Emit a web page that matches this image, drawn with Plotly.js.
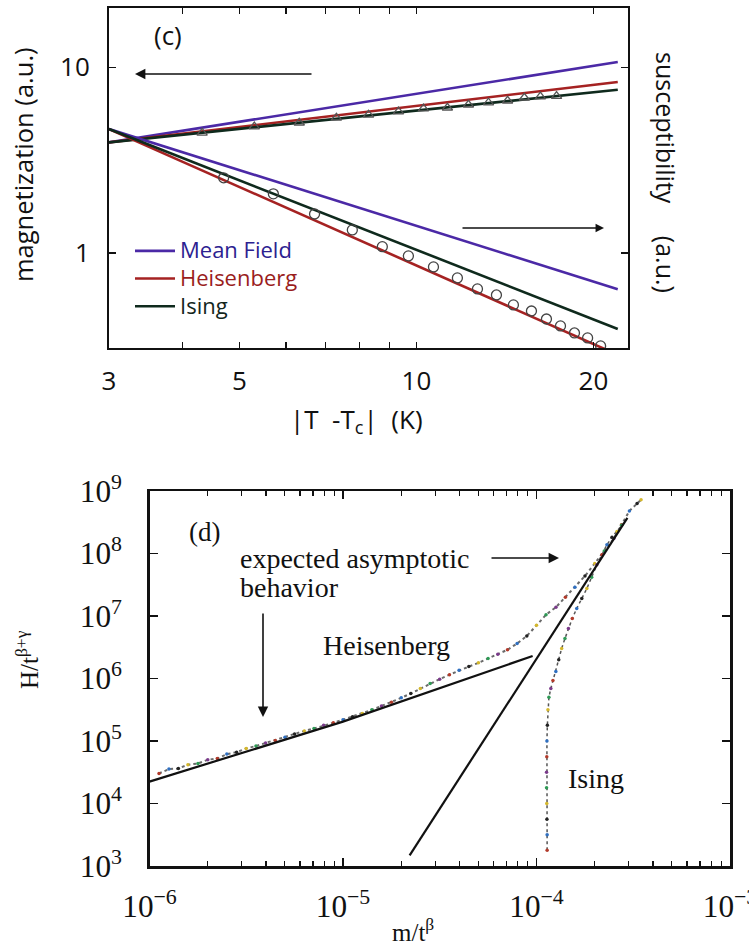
<!DOCTYPE html>
<html>
<head>
<meta charset="utf-8">
<script src="https://cdn.plot.ly/plotly-3.0.1.min.js"></script>
<style>
  html, body { margin: 0; padding: 0; background: #ffffff; }
  #chart { width: 749px; height: 945px; }
</style>
</head>
<body>
<div id="chart"></div>
<script>
// ---------------- Panel (c): magnetization / susceptibility vs |T - Tc| ----------------
const C_FIT_X = [3, 22];                  // |T - Tc| (K) for fitted power laws
const MF_MAG = [3.94, 10.69];             // mean field, magnetization
const HEIS_MAG = [3.94, 8.34];            // Heisenberg, magnetization
const ISING_MAG = [3.94, 7.58];           // Ising, magnetization
const MF_CHI = [4.65, 0.637];             // mean field, susceptibility
const HEIS_CHI = [4.65, 0.282];           // Heisenberg, susceptibility
const ISING_CHI = [4.65, 0.389];          // Ising, susceptibility

const MAG_T = [4.32, 5.30, 6.32, 7.31, 8.29, 9.32, 10.28, 11.29, 12.26, 13.26, 14.29, 15.26, 16.25, 17.31];
const MAG_VAL = [4.44, 4.79, 5.03, 5.35, 5.55, 5.77, 5.99, 6.06, 6.29, 6.45, 6.61, 6.86, 6.95, 7.00];

const CHI_T = [4.70, 5.71, 6.71, 7.78, 8.75, 9.69, 10.69, 11.74, 12.70, 13.68, 14.62, 15.69, 16.64, 17.58, 18.57, 19.55, 20.57];
const CHI_VAL = [2.54, 2.08, 1.62, 1.33, 1.08, 0.963, 0.840, 0.733, 0.639, 0.593, 0.524, 0.486, 0.440, 0.404, 0.370, 0.348, 0.315];

const C_TICK_VALS = [3, 4, 5, 6, 7, 8, 9, 10, 20];
const C_TICK_TEXT = ['3', '', '5', '', '', '', '', '10', '20'];
const C_YTICK_VALS = [1, 10];
const C_YTICK_TEXT = ['1', '10'];

const MODEL_NAMES = ['Mean Field', 'Heisenberg', 'Ising'];

// ---------------- Panel (d): scaling plot H/t^(beta+gamma) vs m/t^beta ----------------
const HEIS_ASYM_X = [1.0e-6, 1.0e-5, 9.55e-5];
const HEIS_ASYM_Y = [2.24e4, 2.04e5, 2.29e6];
const ISING_ASYM_X = [2.21e-5, 2.95e-4];
const ISING_ASYM_Y = [1.48e3, 3.72e8];

const HEIS_DATA_X = [1.12e-6, 1.26e-6, 1.41e-6, 1.58e-6, 1.78e-6, 2.0e-6, 2.24e-6, 2.51e-6, 2.82e-6, 3.16e-6,
  3.55e-6, 3.98e-6, 4.47e-6, 5.01e-6, 5.62e-6, 6.31e-6, 7.08e-6, 7.94e-6, 8.91e-6, 1.0e-5,
  1.12e-5, 1.26e-5, 1.41e-5, 1.58e-5, 1.78e-5, 2.0e-5, 2.24e-5, 2.51e-5, 2.82e-5, 3.16e-5,
  3.55e-5, 3.98e-5, 4.47e-5, 5.01e-5, 5.62e-5, 6.31e-5, 7.08e-5, 7.94e-5, 8.91e-5, 1.0e-4,
  1.12e-4, 1.26e-4, 1.41e-4, 1.58e-4, 1.78e-4, 2.0e-4, 2.24e-4, 2.51e-4, 2.75e-4, 3.02e-4, 3.31e-4, 3.47e-4];
const HEIS_DATA_Y = [3.02e4, 3.55e4, 3.63e4, 4.17e4, 4.37e4, 5.01e4, 5.25e4, 6.17e4, 6.61e4, 7.59e4,
  8.32e4, 9.33e4, 1.02e5, 1.15e5, 1.29e5, 1.45e5, 1.58e5, 1.78e5, 1.95e5, 2.19e5,
  2.45e5, 2.75e5, 3.16e5, 3.63e5, 4.17e5, 4.90e5, 5.75e5, 6.92e5, 8.32e5, 9.77e5,
  1.15e6, 1.35e6, 1.55e6, 1.78e6, 2.09e6, 2.45e6, 2.88e6, 3.63e6, 4.79e6, 7.08e6,
  1.05e7, 1.38e7, 2.0e7, 2.88e7, 4.37e7, 6.92e7, 1.10e8, 1.74e8, 2.88e8, 4.79e8, 6.31e8, 7.24e8];

const ISING_DATA_X = [1.135e-4, 1.135e-4, 1.132e-4, 1.130e-4, 1.127e-4, 1.127e-4, 1.130e-4, 1.132e-4, 1.138e-4, 1.146e-4,
  1.159e-4, 1.186e-4, 1.216e-4, 1.259e-4, 1.303e-4, 1.349e-4, 1.403e-4, 1.462e-4, 1.531e-4, 1.614e-4,
  1.714e-4, 1.820e-4, 1.928e-4, 2.051e-4, 2.178e-4, 2.312e-4, 2.455e-4, 2.606e-4, 2.754e-4];
const ISING_DATA_Y = [1.78e3, 3.16e3, 5.62e3, 1.0e4, 1.78e4, 3.16e4, 5.62e4, 1.0e5, 1.78e5, 3.16e5,
  5.01e5, 6.92e5, 9.33e5, 1.29e6, 2.0e6, 3.02e6, 4.37e6, 6.31e6, 9.12e6, 1.32e7,
  1.91e7, 2.75e7, 4.17e7, 6.61e7, 9.55e7, 1.38e8, 1.82e8, 2.24e8, 2.82e8];

// ---------------- styles ----------------
const SANS = 'Open Sans, Liberation Sans, sans-serif';
const SERIF = 'Liberation Serif, DejaVu Serif, serif';
const LINE_COLORS = ['#4b29a6', '#a52222', '#0f2a1d'];
const TEXT_COLORS = ['#2c2190', '#9a1d1d', '#13261c'];
const DOT_COLORS = ['#b23a2a', '#2f6fc0', '#222222', '#d4b72c', '#2e9a55', '#7a3a8a'];

function cycleColors(n) { const out = []; for (let i = 0; i < n; i++) out.push(DOT_COLORS[i % DOT_COLORS.length]); return out; }

const traces = [];
const magSets = [MF_MAG, HEIS_MAG, ISING_MAG];
const chiSets = [MF_CHI, HEIS_CHI, ISING_CHI];
for (let i = 0; i < 3; i++) {
  traces.push({
    x: C_FIT_X, y: magSets[i], xaxis: 'x', yaxis: 'y', mode: 'lines',
    line: { color: LINE_COLORS[i], width: 2.6 },
    name: '<span style="color:' + TEXT_COLORS[i] + ';font-size:22px">' + MODEL_NAMES[i] + '</span>',
    legendgroup: MODEL_NAMES[i], showlegend: true
  });
}
for (let i = 0; i < 3; i++) {
  traces.push({
    x: C_FIT_X, y: chiSets[i], xaxis: 'x', yaxis: 'y', mode: 'lines',
    line: { color: LINE_COLORS[i], width: 2.6 },
    name: MODEL_NAMES[i], legendgroup: MODEL_NAMES[i], showlegend: false
  });
}
traces.push({
  x: MAG_T, y: MAG_VAL, xaxis: 'x', yaxis: 'y', mode: 'markers', showlegend: false,
  marker: { symbol: 'triangle-up-open', size: 9, color: '#555555', line: { width: 1.3 } }
});
traces.push({
  x: CHI_T, y: CHI_VAL, xaxis: 'x', yaxis: 'y', mode: 'markers', showlegend: false,
  marker: { symbol: 'circle-open', size: 10, color: '#444444', line: { width: 1.3 } }
});

// panel d
traces.push({
  x: HEIS_DATA_X, y: HEIS_DATA_Y, xaxis: 'x2', yaxis: 'y2', mode: 'lines+markers', showlegend: false,
  line: { color: '#6a6a6a', width: 2, dash: 'dot' },
  marker: { size: 3.5, color: cycleColors(HEIS_DATA_X.length) }
});
traces.push({
  x: ISING_DATA_X, y: ISING_DATA_Y, xaxis: 'x2', yaxis: 'y2', mode: 'lines+markers', showlegend: false,
  line: { color: '#555555', width: 1.5, dash: 'dot' },
  marker: { size: 3.5, color: cycleColors(ISING_DATA_X.length) }
});
traces.push({
  x: HEIS_ASYM_X, y: HEIS_ASYM_Y, xaxis: 'x2', yaxis: 'y2', mode: 'lines', showlegend: false,
  line: { color: '#111111', width: 2.2 }
});
traces.push({
  x: ISING_ASYM_X, y: ISING_ASYM_Y, xaxis: 'x2', yaxis: 'y2', mode: 'lines', showlegend: false,
  line: { color: '#111111', width: 2.2 }
});

const W = 749, H = 945;
const px = v => v / W;
const py = v => 1 - v / H;

function label(text, x, y, font, extra) {
  return Object.assign({ text: text, xref: 'paper', yref: 'paper', x: px(x), y: py(y),
    xanchor: 'center', yanchor: 'middle', showarrow: false, font: font }, extra || {});
}
function arrow(x, y, ax, ay, w) {
  return { text: '', xref: 'paper', yref: 'paper', x: px(x), y: py(y), ax: ax, ay: ay,
    showarrow: true, arrowhead: 2, arrowsize: 1.3, arrowwidth: w, arrowcolor: '#111' };
}
const cFont = s => ({ family: SANS, size: s, color: '#111' });
const dFont = s => ({ family: SERIF, size: s, color: '#111' });
const NB = '\u00A0';

const layout = {
  width: W, height: H,
  margin: { l: 0, r: 0, t: 0, b: 0 },
  paper_bgcolor: '#ffffff', plot_bgcolor: '#ffffff',
  showlegend: true,
  legend: {
    x: px(130), y: py(232), xanchor: 'left', yanchor: 'top',
    bgcolor: 'rgba(0,0,0,0)', borderwidth: 0,
    font: { family: SANS, size: 19, color: '#222' },
    tracegroupgap: 0, traceorder: 'normal', itemwidth: 40
  },
  xaxis: {
    type: 'log', range: [Math.log10(3), Math.log10(22.9)], domain: [px(109), px(628)], anchor: 'y',
    showline: true, linecolor: '#111', linewidth: 2, mirror: 'ticks',
    ticks: 'inside', ticklen: 6, tickwidth: 1.5, tickcolor: '#111',
    tickmode: 'array', tickvals: C_TICK_VALS, ticktext: C_TICK_TEXT,
    tickfont: { family: SANS, size: 26, color: '#111' }, ticklabelstandoff: 9,
    showgrid: false, zeroline: false
  },
  yaxis: {
    type: 'log', range: [Math.log10(0.307), Math.log10(20.9)], domain: [py(348), py(8)], anchor: 'x',
    showline: true, linecolor: '#111', linewidth: 2, mirror: 'ticks',
    ticks: 'inside', ticklen: 7, tickwidth: 1.5, tickcolor: '#111',
    tickmode: 'array', tickvals: C_YTICK_VALS, ticktext: C_YTICK_TEXT,
    tickfont: { family: SANS, size: 26, color: '#111' }, ticklabelstandoff: 12,
    showgrid: false, zeroline: false
  },
  xaxis2: {
    type: 'log', range: [-6, -3], domain: [px(149.5), px(730)], anchor: 'y2',
    showline: true, linecolor: '#111', linewidth: 2.5, mirror: 'ticks',
    ticks: 'inside', ticklen: 8, tickwidth: 1.5, tickcolor: '#111',
    dtick: 1, exponentformat: 'power', showexponent: 'all',
    minor: { ticks: 'inside', ticklen: 5, tickwidth: 1.2, tickcolor: '#111', showgrid: false },
    tickfont: { family: SERIF, size: 25, color: '#111' }, ticklabelstandoff: 12,
    ticklabeloverflow: 'allow',
    showgrid: false, zeroline: false
  },
  yaxis2: {
    type: 'log', range: [3, 9], domain: [py(866), py(491)], anchor: 'x2',
    showline: true, linecolor: '#111', linewidth: 2.5, mirror: 'ticks',
    ticks: 'inside', ticklen: 8, tickwidth: 1.5, tickcolor: '#111',
    dtick: 1, exponentformat: 'power', showexponent: 'all',
    tickfont: { family: SERIF, size: 25, color: '#111' }, ticklabelstandoff: 20,
    ticklabeloverflow: 'allow',
    showgrid: false, zeroline: false
  },
  annotations: [
    // panel c text
    label('(c)', 168, 35, cFont(26)),
    label('magnetization (a.u.)', 23, 165, cFont(25.5), { textangle: -90 }),
    label('susceptibility' + NB + NB + NB + NB + NB + '(a.u.)', 666, 172, cFont(25), { textangle: 90 }),
    label('|T' + NB + NB + '-T<sub>c</sub>|' + NB + NB + '(K)', 356, 420, cFont(26)),
    arrow(135, 74, 178, 0, 1.6),
    arrow(604, 228, -143, 0, 1.3),
    // panel d text
    label('(d)', 204, 532, dFont(27)),
    label('expected asymptotic', 238, 558, dFont(28), { xanchor: 'left' }),
    label('behavior', 238, 587, dFont(28), { xanchor: 'left' }),
    label('Heisenberg', 386, 645, dFont(28)),
    label('Ising', 596, 778, dFont(28)),
    arrow(559, 558, -69, 0, 1.6),
    arrow(263, 717, 0, -105, 1.6),
    label('H/t<sup>β+γ</sup>', 27, 660, dFont(25), { textangle: -90 }),
    label('m/t<sup>β</sup>', 413, 930, dFont(25))
  ]
};

Plotly.newPlot('chart', traces, layout, { displayModeBar: false, staticPlot: true });
</script>
</body>
</html>
